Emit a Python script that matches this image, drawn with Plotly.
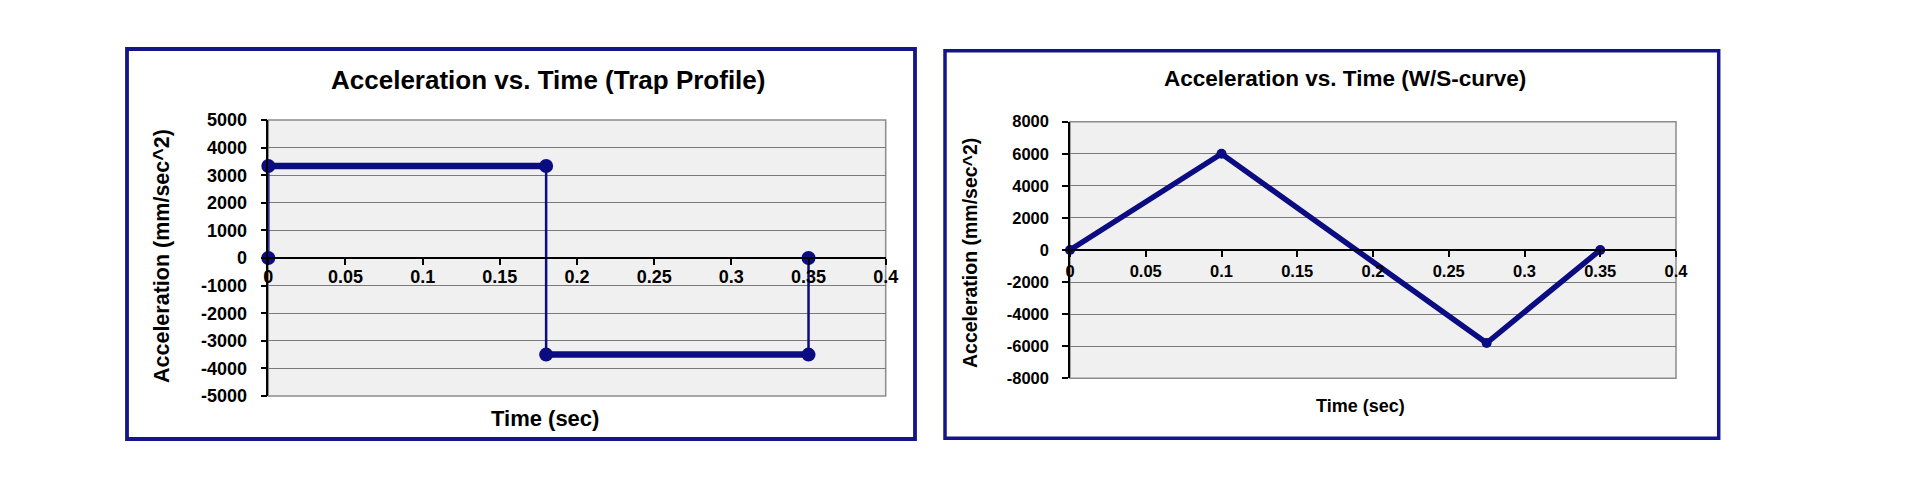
import plotly.graph_objects as go

# ---------------- data ----------------
# Left chart: trapezoidal profile (acceleration steps)
trap_time = [0, 0, 0.18, 0.18, 0.35, 0.35]
trap_accel = [0, 3333, 3333, -3500, -3500, 0]

# Right chart: W/S-curve profile
scurve_time = [0, 0.1, 0.275, 0.35]
scurve_accel = [0, 6000, -5800, 0]

x_tick_vals = [0, 0.05, 0.1, 0.15, 0.2, 0.25, 0.3, 0.35, 0.4]
x_tick_text = ["0", "0.05", "0.1", "0.15", "0.2", "0.25", "0.3", "0.35", "0.4"]
left_y_vals = [5000, 4000, 3000, 2000, 1000, 0, -1000, -2000, -3000, -4000, -5000]
left_y_text = ["5000", "4000", "3000", "2000", "1000", "0", "-1000", "-2000", "-3000", "-4000", "-5000"]
right_y_vals = [8000, 6000, 4000, 2000, 0, -2000, -4000, -6000, -8000]
right_y_text = ["8000", "6000", "4000", "2000", "0", "-2000", "-4000", "-6000", "-8000"]

left_title = "Acceleration vs. Time (Trap Profile)"
right_title = "Acceleration vs. Time (W/S-curve)"
x_title = "Time (sec)"
y_title = "Acceleration (mm/sec^2)"

# ---------------- style ----------------
W, H = 1920, 502
NAVY = "#0b0b82"
FRAME = "#15158a"
GRID = "#7a7a7a"
SANS = "Liberation Sans, Arial, sans-serif"


def px_x(v):
    return v / W


def px_y(v):
    return 1 - v / H


fig = go.Figure()

# ---- left chart traces ----
thick_x, thick_y, thin_x, thin_y = [], [], [], []
for i in range(len(trap_time) - 1):
    seg_x = [trap_time[i], trap_time[i + 1], None]
    seg_y = [trap_accel[i], trap_accel[i + 1], None]
    if trap_time[i] == trap_time[i + 1]:
        thin_x += seg_x
        thin_y += seg_y
    else:
        thick_x += seg_x
        thick_y += seg_y

fig.add_trace(go.Scatter(x=thin_x, y=thin_y, mode="lines",
                         line=dict(color=NAVY, width=2.5),
                         xaxis="x", yaxis="y", cliponaxis=False, hoverinfo="skip"))
fig.add_trace(go.Scatter(x=thick_x, y=thick_y, mode="lines",
                         line=dict(color=NAVY, width=6.5),
                         xaxis="x", yaxis="y", cliponaxis=False, hoverinfo="skip"))
fig.add_trace(go.Scatter(x=trap_time, y=trap_accel, mode="markers",
                         marker=dict(color=NAVY, size=14),
                         xaxis="x", yaxis="y", cliponaxis=False))

# ---- right chart trace ----
fig.add_trace(go.Scatter(x=scurve_time, y=scurve_accel, mode="lines+markers",
                         line=dict(color=NAVY, width=5.5),
                         marker=dict(color=NAVY, size=10),
                         xaxis="x2", yaxis="y2", cliponaxis=False))

# ---- axes ----
L_X0, L_X1, L_Y0, L_Y1 = 268.3, 885.7, 120.0, 396.0
R_X0, R_X1, R_Y0, R_Y1 = 1070.0, 1676.0, 121.7, 378.3

common_x = dict(range=[0, 0.4], tickvals=x_tick_vals, ticktext=x_tick_text,
                ticks="outside", ticklen=6, tickcolor="black", tickwidth=1.5,
                showline=True, linecolor="black", linewidth=1.5,
                showgrid=False, zeroline=False, anchor="free", automargin=False)
common_y = dict(ticks="outside", ticklen=6, tickcolor="black", tickwidth=1.5,
                showline=True, linecolor="black", linewidth=1.5,
                showgrid=True, gridcolor=GRID, gridwidth=1.3, zeroline=False,
                automargin=False)

fig.update_layout(
    width=W, height=H, autosize=False,
    margin=dict(l=0, r=0, t=0, b=0, autoexpand=False),
    paper_bgcolor="white",
    plot_bgcolor="#f0f0f0",
    showlegend=False,
    xaxis=dict(common_x, domain=[px_x(L_X0), px_x(L_X1)],
               position=(px_y(L_Y0) + px_y(L_Y1)) / 2,
               tickfont=dict(family=SANS, size=18, color="black", weight="bold"),
               ticklabelstandoff=-3),
    yaxis=dict(common_y, domain=[px_y(L_Y1), px_y(L_Y0)], anchor="x",
               range=[-5000, 5000], tickvals=left_y_vals, ticktext=left_y_text,
               tickfont=dict(family=SANS, size=18, color="black", weight="bold"),
               ticklabelstandoff=10),
    xaxis2=dict(common_x, domain=[px_x(R_X0), px_x(R_X1)],
                position=(px_y(R_Y0) + px_y(R_Y1)) / 2,
                tickfont=dict(family=SANS, size=16.5, color="black", weight="bold"),
                ticklabelstandoff=0),
    yaxis2=dict(common_y, domain=[px_y(R_Y1), px_y(R_Y0)], anchor="x2",
                range=[-8000, 8000], tickvals=right_y_vals, ticktext=right_y_text,
                tickfont=dict(family=SANS, size=16.5, color="black", weight="bold"),
                ticklabelstandoff=10),
)

# ---- frames and plot-area borders ----
shapes = [
    dict(type="rect", xref="paper", yref="paper",
         x0=px_x(127), x1=px_x(915), y0=px_y(439), y1=px_y(49),
         line=dict(color=FRAME, width=3.8), layer="above"),
    dict(type="rect", xref="paper", yref="paper",
         x0=px_x(945), x1=px_x(1718.7), y0=px_y(438.3), y1=px_y(50.7),
         line=dict(color=FRAME, width=3.5), layer="above"),
    dict(type="rect", xref="paper", yref="paper",
         x0=px_x(L_X0), x1=px_x(L_X1), y0=px_y(L_Y1), y1=px_y(L_Y0),
         line=dict(color="#8c8c8c", width=1.5), layer="below"),
    dict(type="rect", xref="paper", yref="paper",
         x0=px_x(R_X0), x1=px_x(R_X1), y0=px_y(R_Y1), y1=px_y(R_Y0),
         line=dict(color="#8c8c8c", width=1.5), layer="below"),
]
fig.update_layout(shapes=shapes)

# ---- titles as annotations ----
def ann(text, x, y, size, angle=0):
    return dict(text=text, x=px_x(x), y=px_y(y), xref="paper", yref="paper",
                showarrow=False, xanchor="center", yanchor="middle", textangle=angle,
                font=dict(family=SANS, size=size, color="black", weight="bold"))


fig.update_layout(annotations=[
    ann(left_title, 548, 80, 26),
    ann(right_title, 1345, 79, 22.5),
    ann(x_title, 545, 418, 22),
    ann(x_title, 1360, 406, 18),
    ann(y_title, 162, 256, 21.5, -90),
    ann(y_title, 970, 253, 19.5, -90),
])

fig.write_html("out.html")
